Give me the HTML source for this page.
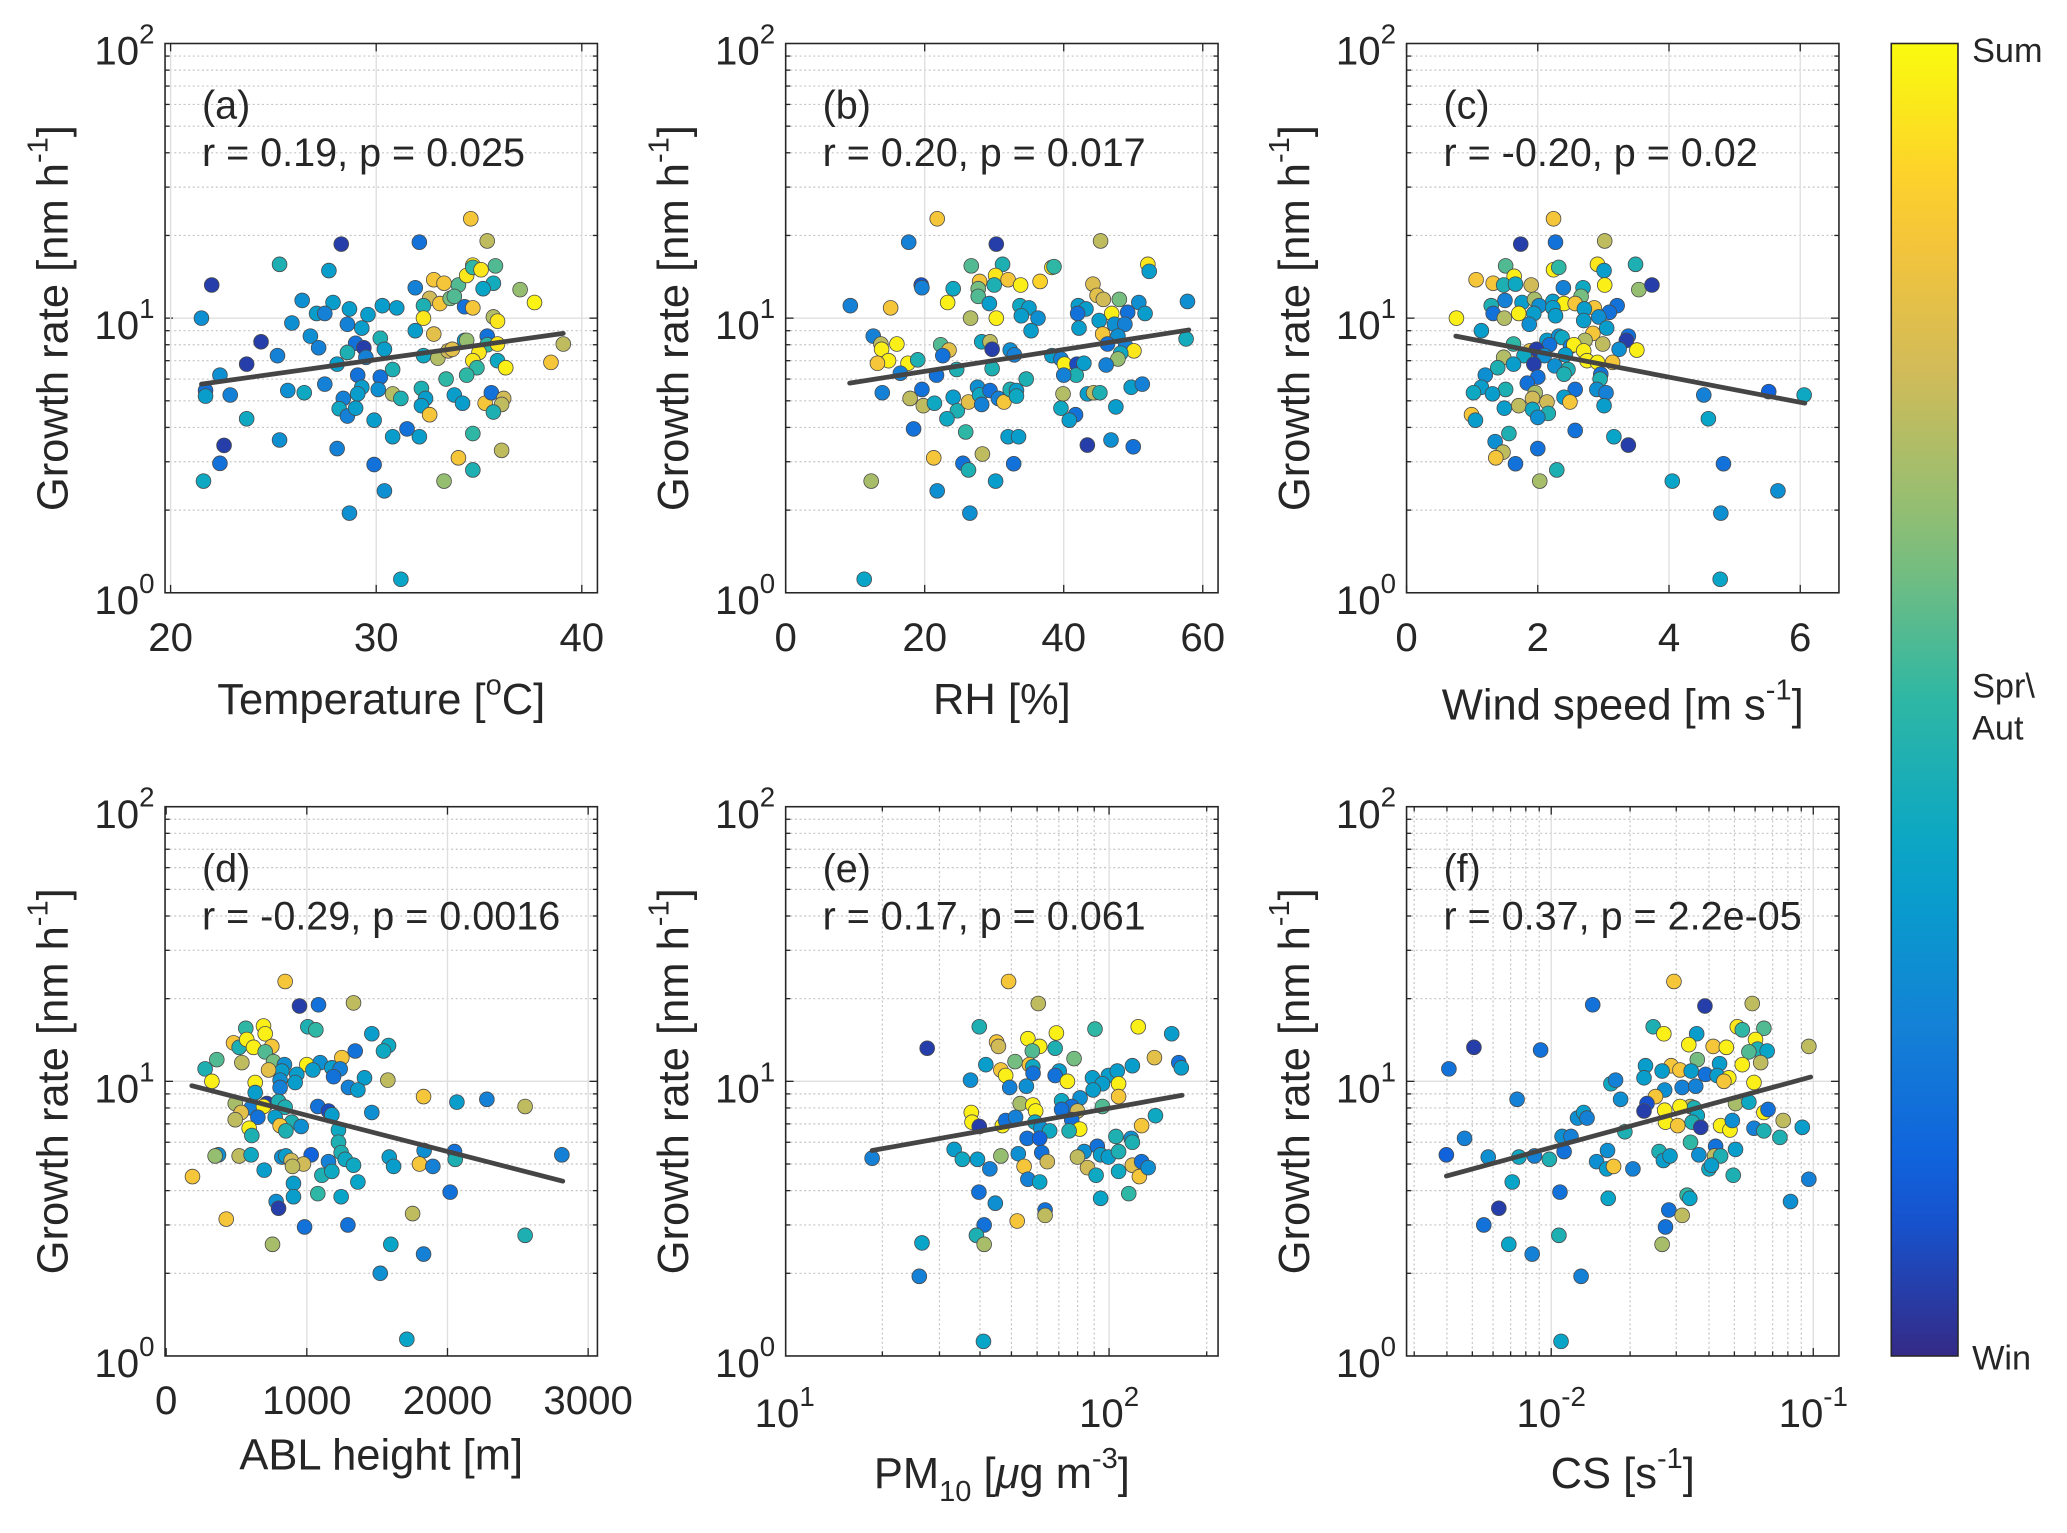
<!DOCTYPE html>
<html><head><meta charset="utf-8"><title>Growth rate vs meteorological parameters</title>
<style>
html,body{margin:0;padding:0;background:#fff;}
svg{display:block;}
text{font-family:"Liberation Sans",Arial,sans-serif;fill:#262626;}
</style></head>
<body>
<svg id="fig" xmlns="http://www.w3.org/2000/svg" width="2067" height="1533" viewBox="0 0 1568 1163" preserveAspectRatio="none"></svg>
<script>
// ---------- DATA: [x, growth rate (nm/h), season colour 0=Win..1=Sum] ----------
const ptsA = [[34.6,23,.85],[28.3,18.6,.05],[32.1,18.9,.2],[35.4,19.1,.72],[25.3,15.7,.45],[27.7,14.9,.35],[22.0,13.2,.05],[31.9,12.9,.25],[32.8,13.8,.85],[33.3,13.4,.85],[34.0,13.2,.55],[34.4,14.3,.95],[34.7,15.6,.95],[34.7,15.3,.5],[35.1,15.0,.95],[35.8,15.5,.55],[35.7,13.4,.42],[35.2,12.8,.38],[37.0,12.7,.65],[37.7,11.4,.98],[21.5,10,.3],[26.4,11.6,.3],[27.9,11.4,.35],[27.1,10.4,.35],[27.5,10.4,.25],[28.7,10.8,.35],[29.6,10.3,.35],[30.3,11.1,.35],[31.0,10.9,.35],[32.6,11.8,.75],[33.1,11.3,.85],[33.6,11.8,.6],[33.8,12.0,.55],[34.3,11.0,.2],[34.7,10.9,.85],[32.3,11.1,.45],[32.3,10,.95],[35.7,10.1,.7],[35.9,9.75,.95],[31.9,9.0,.35],[32.8,8.75,.8],[25.9,9.6,.3],[26.8,8.6,.3],[27.2,7.8,.25],[28.6,9.5,.25],[29.3,9.2,.35],[30.2,8.45,.45],[29.0,8.1,.2],[29.4,7.8,.05],[30.4,7.7,.35],[24.4,8.2,.05],[23.7,6.8,.05],[25.2,7.3,.25],[22.4,6.2,.3],[28.6,7.5,.45],[28.1,6.8,.35],[29.5,7.2,.25],[29.1,6.2,.2],[30.2,6.1,.2],[30.8,6.5,.45],[32.3,7.3,.4],[33.0,7.15,.7],[33.5,7.6,.75],[33.7,7.7,.8],[34.3,8.3,.35],[34.4,8.3,.65],[35.4,8.6,.2],[35.4,8.0,.5],[35.9,8.05,.95],[35.0,7.5,.95],[34.7,7.0,.95],[34.9,6.6,.5],[34.4,6.2,.5],[35.9,7.0,.4],[36.3,6.6,.97],[39.1,8.05,.72],[38.5,6.9,.85],[33.4,6.0,.5],[21.7,5.45,.2],[21.7,5.2,.35],[22.9,5.25,.25],[25.7,5.45,.3],[26.5,5.35,.4],[27.5,5.75,.25],[28.4,5.1,.25],[29.3,5.6,.35],[29.1,5.3,.35],[30.1,5.5,.3],[28.2,4.68,.4],[28.6,4.4,.25],[29.0,4.7,.35],[30.8,5.3,.7],[31.2,5.1,.45],[32.2,5.55,.45],[32.4,5.1,.35],[32.2,4.8,.35],[32.6,4.45,.85],[33.8,5.25,.35],[34.2,4.9,.35],[35.3,4.9,.85],[35.6,5.35,.2],[36.2,5.1,.75],[36.1,4.85,.72],[35.7,4.55,.45],[23.7,4.3,.4],[29.9,4.25,.35],[30.8,3.7,.35],[31.5,3.95,.2],[32.1,3.7,.35],[34.7,3.8,.5],[25.3,3.6,.3],[28.1,3.35,.25],[22.6,3.44,.05],[22.4,2.96,.2],[29.9,2.93,.2],[34.0,3.1,.85],[36.1,3.3,.72],[21.6,2.55,.4],[34.7,2.8,.45],[33.3,2.55,.65],[30.4,2.35,.3],[28.7,1.95,.3],[31.2,1.12,.38]];
const ptsB = [[21.8,23,.85],[17.7,18.9,.25],[30.3,18.6,.05],[45.3,19.1,.72],[26.7,15.5,.55],[31.2,15.7,.45],[38.3,15.3,.95],[38.6,15.4,.5],[52.1,15.7,.95],[52.3,14.8,.35],[27.9,13.6,.85],[30.2,14.3,.95],[30.0,13.2,.45],[32.0,13.8,.85],[33.8,13.2,.97],[36.6,13.6,.9],[27.7,12.8,.6],[27.7,12.0,.55],[19.5,13.2,.1],[19.6,12.9,.25],[24.1,12.8,.4],[23.3,11.4,.97],[9.3,11.1,.25],[15.1,10.9,.85],[29.3,11.3,.35],[33.7,11.1,.4],[35.0,10.9,.35],[33.9,10.2,.35],[36.3,10.0,.3],[35.3,9.0,.35],[26.6,10.0,.7],[30.3,10.0,.97],[44.2,13.3,.78],[44.8,12.1,.8],[45.7,11.7,.75],[48.0,11.7,.6],[50.8,11.4,.3],[51.7,10.4,.35],[42.1,11.1,.35],[43.2,10.8,.35],[42.0,10.4,.2],[46.9,10.4,.97],[49.2,10.5,.2],[45.1,9.8,.35],[47.3,9.5,.3],[48.8,9.5,.25],[42.2,9.2,.35],[57.8,11.5,.3],[45.6,8.75,.85],[47.8,8.6,.3],[46.3,8.05,.2],[48.9,7.9,.25],[50.1,7.6,.95],[48.2,7.45,.4],[47.8,7.1,.65],[57.6,8.4,.42],[12.6,8.6,.25],[13.7,8.05,.72],[13.8,7.7,.97],[16.0,8.05,.97],[14.8,7.0,.97],[13.2,6.85,.85],[17.6,6.85,.97],[19.0,7.05,.45],[16.5,6.3,.25],[22.3,8.0,.55],[23.5,7.65,.8],[22.6,7.3,.2],[24.6,6.5,.45],[28.2,8.2,.4],[29.4,8.2,.72],[29.7,7.7,.05],[29.7,6.55,.45],[32.3,7.65,.3],[32.9,7.35,.25],[21.7,6.2,.2],[38.3,7.3,.35],[39.6,7.1,.25],[40.1,6.8,.97],[41.9,6.8,.08],[41.8,6.2,.45],[40.0,6.2,.25],[42.9,6.85,.35],[46.1,6.75,.25],[34.6,6.0,.45],[13.9,5.35,.25],[19.6,5.5,.2],[17.9,5.1,.72],[19.8,4.8,.72],[21.4,4.9,.4],[24.1,5.15,.35],[24.7,4.6,.45],[23.2,4.3,.4],[26.3,4.95,.8],[27.6,5.6,.3],[27.9,5.25,.4],[28.2,4.85,.25],[29.4,5.45,.2],[30.6,5.1,.25],[31.4,4.95,.85],[32.3,5.5,.45],[33.2,5.45,.35],[33.2,5.2,.4],[39.9,5.3,.7],[43.4,5.3,.35],[44.3,5.35,.72],[45.2,5.35,.45],[39.6,4.7,.4],[41.7,4.45,.2],[40.8,4.25,.35],[47.5,4.75,.35],[49.7,5.6,.35],[51.3,5.75,.25],[18.4,3.95,.2],[25.9,3.85,.5],[32.0,3.7,.35],[33.5,3.7,.35],[43.4,3.45,.05],[46.8,3.6,.3],[50.0,3.4,.2],[21.3,3.1,.85],[28.3,3.2,.72],[25.5,2.96,.2],[26.3,2.8,.45],[32.8,2.95,.2],[30.2,2.55,.35],[12.3,2.55,.68],[21.8,2.35,.3],[26.5,1.95,.3],[11.3,1.12,.38]];
const ptsC = [[2.24,23,.85],[1.74,18.6,.05],[2.27,18.9,.2],[3.02,19.1,.72],[1.51,15.5,.55],[1.64,14.2,.97],[2.24,15.0,.97],[2.32,15.3,.5],[2.91,15.7,.95],[3.01,14.9,.35],[3.49,15.7,.45],[1.06,13.8,.85],[1.32,13.4,.85],[1.48,13.2,.45],[1.66,13.3,.4],[1.9,13.2,.75],[2.39,12.9,.25],[2.69,12.9,.4],[3.02,13.2,.97],[3.54,12.7,.65],[3.74,13.2,.05],[1.5,11.6,.25],[1.29,11.1,.45],[1.76,11.4,.35],[1.95,11.7,.68],[2.02,11.1,.3],[2.23,11.5,.35],[2.4,11.3,.97],[2.66,12.0,.6],[2.57,11.3,.85],[2.86,10.9,.85],[2.71,10.8,.35],[3.21,11.1,.2],[3.09,10.5,.2],[1.32,10.4,.2],[1.49,10.0,.7],[1.71,10.4,.97],[1.94,10.4,.35],[2.23,10.9,.35],[2.27,10.2,.35],[2.7,9.8,.35],[2.93,10.1,.3],[0.76,10,.97],[1.87,9.5,.3],[3.05,9.2,.35],[1.14,9.0,.35],[2.84,8.8,.85],[3.38,8.6,.2],[3.35,8.3,.05],[2.14,8.3,.35],[2.32,8.6,.3],[2.37,8.5,.4],[2.72,8.3,.7],[2.99,8.05,.72],[1.63,8.05,.5],[2.18,8.0,.2],[2.5,7.9,.25],[2.55,8.0,.97],[2.7,7.6,.97],[3.51,7.65,.97],[3.24,7.7,.3],[1.88,7.6,.8],[1.98,7.7,.05],[1.79,7.3,.4],[2.1,7.3,.3],[2.42,7.35,.35],[1.48,7.2,.7],[2.75,7.0,.97],[2.91,6.9,.97],[3.14,6.9,.85],[1.94,6.8,.05],[2.26,6.7,.3],[2.46,6.5,.45],[1.63,6.8,.35],[1.39,6.6,.45],[2.4,6.25,.45],[2.0,6.1,.2],[2.96,6.25,.2],[2.95,6.0,.45],[1.2,6.2,.3],[1.84,5.8,.2],[1.14,5.6,.35],[2.57,5.5,.2],[2.9,5.5,.3],[3.04,5.35,.25],[1.51,5.5,.45],[1.96,5.35,.68],[1.02,5.35,.4],[1.31,5.3,.35],[2.4,5.15,.35],[2.49,4.95,.85],[1.92,5.1,.75],[2.14,4.95,.75],[1.71,4.8,.72],[1.49,4.7,.35],[1.92,4.65,.4],[2.16,4.5,.45],[2.0,4.35,.3],[3.01,4.8,.35],[4.53,5.25,.25],[5.52,5.4,.15],[6.06,5.25,.4],[0.99,4.45,.85],[1.05,4.25,.35],[4.6,4.3,.38],[2.57,3.9,.2],[3.16,3.7,.38],[3.38,3.45,.05],[1.56,3.8,.45],[1.35,3.55,.3],[1.47,3.25,.72],[1.36,3.1,.85],[2.0,3.35,.2],[1.66,2.95,.2],[2.29,2.8,.45],[2.03,2.55,.68],[4.83,2.95,.2],[4.05,2.55,.38],[5.66,2.35,.3],[4.79,1.95,.3],[4.78,1.12,.38]];
const ptsD = [[846,23.1,.85],[948,18.8,.05],[1083,19.0,.2],[1332,19.3,.72],[566,15.6,.5],[692,15.9,.97],[704,14.9,.97],[1007,15.8,.45],[1064,15.4,.5],[1462,14.9,.35],[1581,13.5,.4],[1545,12.9,.4],[479,13.8,.85],[519,13.3,.45],[573,14.2,.97],[621,13.3,.97],[751,13.4,.85],[704,12.8,.55],[1344,12.9,.2],[1249,12.2,.85],[360,12.0,.55],[277,11.1,.45],[538,11.7,.72],[763,11.8,.6],[841,11.5,.3],[1000,11.5,.97],[1095,11.7,.3],[1178,11.2,.35],[1237,11.1,.25],[1043,11.0,.35],[822,10.9,.35],[728,11.0,.8],[929,10.6,.35],[1190,10.4,.2],[1410,10.3,.35],[1576,10.1,.72],[325,10.0,.97],[810,10.1,.3],[917,9.9,.35],[810,9.5,.25],[1296,9.5,.25],[1363,9.3,.35],[633,9.9,.97],[633,9.1,.35],[1830,8.8,.85],[2067,8.4,.35],[2280,8.6,.25],[2552,8.1,.72],[491,8.3,.68],[716,8.3,.05],[604,8.0,.25],[692,8.1,.97],[799,8.45,.45],[846,8.05,.45],[1078,8.1,.2],[1154,7.8,.08],[1178,7.55,.35],[533,7.7,.8],[652,7.4,.2],[775,7.4,.35],[1462,7.7,.3],[491,7.25,.72],[893,7.1,.45],[960,6.85,.3],[810,6.9,.85],[851,6.6,.45],[590,6.75,.97],[1225,6.65,.4],[609,6.35,.45],[1225,6.0,.45],[1244,5.5,.45],[1273,5.2,.4],[372,5.4,.3],[348,5.35,.65],[519,5.35,.72],[604,5.4,.4],[822,5.3,.3],[851,5.35,.35],[1031,5.4,.15],[889,5.15,.75],[976,5.0,.75],[898,4.9,.72],[1154,5.1,.25],[1332,4.95,.4],[1586,5.3,.35],[1617,4.9,.35],[1834,5.6,.3],[1801,5.0,.85],[1896,4.9,.25],[2050,5.55,.2],[2055,5.2,.45],[2813,5.4,.25],[187,4.5,.85],[697,4.75,.35],[1107,4.55,.45],[1178,4.7,.4],[1363,4.3,.38],[905,4.25,.35],[2019,3.95,.2],[1078,3.9,.5],[905,3.8,.35],[1244,3.8,.38],[782,3.65,.3],[799,3.45,.05],[1752,3.3,.72],[427,3.15,.85],[984,2.95,.2],[1292,3.0,.2],[2552,2.75,.45],[756,2.55,.68],[1597,2.55,.38],[1830,2.35,.25],[1522,2.0,.3],[1711,1.15,.38]];
const ptsE = [[49.0,23.1,.85],[60.5,19.2,.72],[39.8,15.8,.45],[90.5,15.5,.5],[123,15.8,.97],[156,14.9,.35],[27.5,13.2,.05],[45,13.9,.85],[45.6,13.4,.75],[56.2,14.3,.97],[68.8,15.0,.97],[61.1,13.4,.97],[68.2,13.2,.45],[58.0,12.9,.55],[78.0,12.1,.6],[138,12.2,.8],[164,11.7,.2],[167,11.2,.35],[41.7,11.5,.35],[51.3,11.8,.6],[56.8,11.5,.85],[58.2,11.3,.4],[46.4,11.0,.85],[48,10.5,.97],[58.3,10.7,.2],[70.2,10.9,.35],[68.2,10.5,.2],[74.4,10.0,.97],[88.9,10.3,.35],[99.5,10.5,.35],[106,10.9,.35],[118,11.4,.35],[95.4,9.8,.35],[107,9.8,.97],[37.4,10.1,.3],[49.4,9.5,.25],[55.6,9.6,.3],[89.3,9.3,.35],[107,8.8,.85],[81.4,8.7,.3],[71.4,8.5,.4],[53.2,8.3,.68],[58.2,8.2,.97],[59.4,7.8,.97],[76.7,8.1,.2],[79.9,7.8,.75],[71.4,7.9,.2],[95.4,8.1,.55],[37.6,7.7,.97],[139,7.5,.4],[37.8,7.1,.97],[39.8,6.85,.05],[46.9,6.9,.97],[48,7.2,.2],[51.5,7.4,.25],[59.1,7.1,.4],[61.6,6.75,.3],[65.6,6.6,.4],[76.7,7.25,.2],[81.2,6.7,.97],[75.3,6.6,.45],[126,6.9,.85],[55.9,6.2,.2],[61.1,6.2,.15],[105,6.3,.45],[117,6.2,.3],[118,6.0,.45],[33.3,5.65,.35],[35.3,5.2,.4],[39.3,5.2,.35],[42.9,4.8,.25],[46.4,5.35,.65],[52.5,5.45,.3],[62,5.5,.2],[64.5,5.1,.75],[54.7,4.9,.85],[56.2,4.4,.25],[61.1,4.3,.38],[83.8,5.55,.3],[79.9,5.3,.72],[92,5.8,.2],[94.2,5.4,.35],[99.5,5.3,.35],[107,5.55,.45],[85.8,4.85,.75],[91.2,4.55,.4],[107,4.7,.4],[118,4.95,.8],[124,4.5,.85],[126,5.1,.2],[132,4.85,.3],[39.7,3.95,.2],[44.6,3.6,.3],[63.5,3.4,.2],[63.5,3.25,.72],[52.1,3.1,.85],[94.2,3.75,.38],[115,3.9,.5],[41.2,3.0,.2],[39.0,2.75,.45],[41.2,2.55,.68],[26.5,2.58,.38],[26,1.95,.25],[41,1.13,.38],[18.6,5.25,.25]];
const ptsF = [[0.0294,23.1,.85],[0.0144,19.0,.2],[0.0386,18.8,.05],[0.0585,19.2,.72],[0.0245,15.8,.45],[0.0269,14.9,.97],[0.0513,15.8,.95],[0.0536,15.4,.5],[0.0648,15.6,.55],[0.0359,14.9,.35],[0.00507,13.3,.05],[0.00911,13.0,.2],[0.0335,13.6,.97],[0.0415,13.4,.85],[0.0466,13.3,.97],[0.0602,14.2,.97],[0.0613,13.1,.45],[0.0667,12.9,.38],[0.0568,12.8,.55],[0.0962,13.4,.72],[0.063,11.7,.72],[0.0536,11.5,.97],[0.0361,12.0,.6],[0.0229,11.4,.35],[0.0287,11.4,.85],[0.031,11.0,.85],[0.0265,10.9,.35],[0.0342,10.9,.35],[0.0388,10.6,.2],[0.0439,11.6,.35],[0.043,10.5,.35],[0.0476,10.3,.97],[0.0456,10,.85],[0.0594,9.9,.97],[0.0226,10.3,.35],[0.00407,11.1,.2],[0.0169,9.8,.4],[0.0176,10.1,.25],[0.0316,9.5,.25],[0.0356,9.6,.25],[0.0271,9.3,.3],[0.0184,8.6,.3],[0.00741,8.6,.25],[0.025,8.8,.85],[0.0232,8.3,.1],[0.0226,7.8,.05],[0.034,8.1,.72],[0.0351,8.0,.45],[0.0505,8.3,.68],[0.0568,8.4,.4],[0.0271,7.85,.97],[0.031,8.1,.97],[0.0361,7.5,.4],[0.0648,7.7,.97],[0.0672,7.9,.2],[0.0273,7.1,.97],[0.0304,6.9,.85],[0.0345,7.1,.45],[0.0372,6.8,.05],[0.0443,6.9,.97],[0.0481,6.65,.97],[0.0491,7.2,.3],[0.0126,7.35,.3],[0.0133,7.7,.35],[0.0137,7.35,.25],[0.0594,6.75,.25],[0.0648,6.6,.45],[0.0768,7.2,.72],[0.0746,6.25,.45],[0.0908,6.8,.35],[0.00467,6.2,.25],[0.011,6.3,.3],[0.0119,6.3,.25],[0.0191,6.55,.45],[0.034,6.0,.5],[0.0424,5.8,.2],[0.0505,5.65,.35],[0.00398,5.4,.15],[0.00575,5.3,.3],[0.00753,5.3,.4],[0.00863,5.35,.25],[0.00984,5.2,.45],[0.0112,5.55,.2],[0.0164,5.6,.3],[0.0149,5.1,.3],[0.0163,4.8,.35],[0.0173,4.9,.85],[0.0205,4.8,.25],[0.0258,5.55,.45],[0.0268,5.15,.35],[0.0284,5.35,.35],[0.0366,5.4,.3],[0.042,5.35,.72],[0.0443,5.35,.45],[0.04,4.8,.4],[0.0409,4.95,.35],[0.0495,4.55,.45],[0.0962,4.4,.25],[0.0071,4.3,.38],[0.0108,3.95,.2],[0.0165,3.75,.38],[0.033,3.85,.5],[0.0338,3.75,.38],[0.0819,3.65,.3],[0.00631,3.45,.05],[0.0281,3.4,.2],[0.0316,3.25,.72],[0.00553,3.0,.2],[0.0273,2.95,.2],[0.0107,2.75,.45],[0.00689,2.55,.38],[0.0265,2.55,.68],[0.00846,2.35,.25],[0.013,1.95,.25],[0.0109,1.13,.38]];
// regression lines: [[x0,y0],[x1,y1]]
const fitA = [[21.5,5.75],[39.1,8.8]];
const fitB = [[9.2,5.8],[58.0,9.06]];
const fitC = [[0.75,8.6],[6.07,4.9]];
const fitD = [[182,9.64],[2820,4.33]];
const fitE = [[18.6,5.6],[168,8.9]];
const fitF = [[0.00398,4.52],[0.0978,10.37]];
// annotations
const panelLetters = ["(a)","(b)","(c)","(d)","(e)","(f)"];
const statsText = ["r = 0.19, p = 0.025","r = 0.20, p = 0.017","r = -0.20, p = 0.02","r = -0.29, p = 0.0016","r = 0.17, p = 0.061","r = 0.37, p = 2.2e-05"];
const ticksA = [20,30,40];
const ticksB = [0,20,40,60];
const ticksC = [0,2,4,6];
const ticksD = [0,1000,2000,3000];
const ticksE = [10,100];
const ticksF = [0.01,0.1];
const yTicks = [1,10,100];

const NS = "http://www.w3.org/2000/svg";
const svg = document.getElementById("fig");
function mk(tag, attrs, parent){
  const e = document.createElementNS(NS, tag);
  for (const k in attrs) e.setAttribute(k, attrs[k]);
  (parent||svg).appendChild(e);
  return e;
}
const cmStops = [[0,[53,42,135]],[0.125,[15,92,221]],[0.25,[20,129,214]],[0.375,[6,164,202]],[0.5,[46,183,164]],[0.625,[135,191,119]],[0.75,[209,187,89]],[0.875,[254,200,50]],[1,[249,251,14]]];
function cmap(t){
  t=Math.max(0,Math.min(1,t));
  for(let i=1;i<cmStops.length;i++){
    if(t<=cmStops[i][0]){
      const a=cmStops[i-1],b=cmStops[i],f=(t-a[0])/(b[0]-a[0]);
      const c=a[1].map((v,j)=>Math.round(v+(b[1][j]-v)*f));
      return `rgb(${c[0]},${c[1]},${c[2]})`;
    }
  }
  return "rgb(249,251,14)";
}

const W = 328, H = 416.7;
const panels = [
  {id:"a", L:125.2, T:33, xlog:false, xmin:19.73, xmax:40.76, ticks:ticksA, pts:ptsA, fit:fitA, xlabel:"temp"},
  {id:"b", L:596, T:33, xlog:false, xmin:0, xmax:62.2, ticks:ticksB, pts:ptsB, fit:fitB, xlabel:"rh"},
  {id:"c", L:1067, T:33, xlog:false, xmin:0, xmax:6.59, ticks:ticksC, pts:ptsC, fit:fitC, xlabel:"ws"},
  {id:"d", L:125.2, T:612, xlog:false, xmin:-8, xmax:3066, ticks:ticksD, pts:ptsD, fit:fitD, xlabel:"abl"},
  {id:"e", L:596, T:612, xlog:true, xmin:1.003, xmax:2.336, ticks:ticksE, pts:ptsE, fit:fitE, xlabel:"pm"},
  {id:"f", L:1067, T:612, xlog:true, xmin:-2.552, xmax:-0.902, ticks:ticksF, pts:ptsF, fit:fitF, xlabel:"cs"}
];

panels.forEach((p, idx) => {
  const g = mk("g", {});
  
  
  const X = v => p.L + ((p.xlog ? Math.log10(v) : v) - p.xmin) / (p.xmax - p.xmin) * W;
  const Y = v => p.T + H - Math.log10(v) / 2 * H;
  const B = p.T + H, R = p.L + W;
  const grid = mk("g", {}, g);
  
  
  for (let d=0; d<2; d++) for (let m=1; m<=9; m++){
    const v = m*Math.pow(10,d); if (v===1) continue;
    const y = Y(v);
    if (m===1) mk("line",{x1:p.L,x2:R,y1:y,y2:y,stroke:"#dedede","stroke-width":1},grid);
    else mk("line",{x1:p.L,x2:R,y1:y,y2:y,stroke:"#c4c4c4","stroke-width":0.9,"stroke-dasharray":"1.5 2"},grid);
    const tl = m===1?6:3.5;
    mk("line",{x1:p.L,x2:p.L+tl,y1:y,y2:y,stroke:"#262626","stroke-width":1},grid);
    mk("line",{x1:R,x2:R-tl,y1:y,y2:y,stroke:"#262626","stroke-width":1},grid);
  }
  if (p.xlog){
    const d0 = Math.floor(p.xmin), d1 = Math.ceil(p.xmax);
    for (let d=d0; d<d1; d++) for (let m=1; m<=9; m++){
      const v = m*Math.pow(10,d), lv=Math.log10(v);
      if (lv<=p.xmin+1e-6 || lv>=p.xmax) continue;
      const x = X(v);
      if (m===1) mk("line",{x1:x,x2:x,y1:p.T,y2:B,stroke:"#dedede","stroke-width":1},grid);
      else mk("line",{x1:x,x2:x,y1:p.T,y2:B,stroke:"#c4c4c4","stroke-width":0.9,"stroke-dasharray":"1.5 2"},grid);
      const tl = m===1?6:3.5;
      mk("line",{x1:x,x2:x,y1:B,y2:B-tl,stroke:"#262626","stroke-width":1},grid);
      mk("line",{x1:x,x2:x,y1:p.T,y2:p.T+tl,stroke:"#262626","stroke-width":1},grid);
    }
  } else {
    p.ticks.forEach(v => {
      const x = X(v);
      if (x > p.L+1) mk("line",{x1:x,x2:x,y1:p.T,y2:B,stroke:"#dedede","stroke-width":1},grid);
      mk("line",{x1:x,x2:x,y1:B,y2:B-6,stroke:"#262626","stroke-width":1},grid);
      mk("line",{x1:x,x2:x,y1:p.T,y2:p.T+6,stroke:"#262626","stroke-width":1},grid);
    });
  }
  const pg = mk("g", {}, g);
  
  
  p.pts.forEach(pt => {
    const c = mk("circle",{cx:X(pt[0]),cy:Y(pt[1]),r:5.6,fill:cmap(pt[2]),stroke:"#4a4a4a","stroke-width":0.6},pg);
    
    
  });
  const fl = mk("line",{x1:X(p.fit[0][0]),y1:Y(p.fit[0][1]),x2:X(p.fit[1][0]),y2:Y(p.fit[1][1]),stroke:"#454545","stroke-width":3.6,"stroke-linecap":"round"},g);
  
  
  const box = mk("rect",{x:p.L,y:p.T,width:W,height:H,fill:"none",stroke:"#262626","stroke-width":1.2},g);
  
  
  yTicks.forEach((v,i) => {
    const t = mk("text",{x:p.L-8,y:Y(v)+16,"font-size":30.5,"text-anchor":"end"},g);
    
    
    const a = mk("tspan",{},t); a.textContent = "10";
    const s = mk("tspan",{"font-size":21,dy:-16},t); s.textContent = String(i);
  });
  p.ticks.forEach(v => {
    const x = X(v);
    const t = mk("text",{x:x,y:B+44,"font-size":30.5,"text-anchor":"middle"},g);
    
    
    if (p.xlog){
      t.setAttribute("y", B+54);
      const a = mk("tspan",{},t); a.textContent = "10";
      const s = mk("tspan",{"font-size":21,dy:-16},t); s.textContent = String(Math.round(Math.log10(v)));
    } else t.textContent = String(v);
  });
  const yl = mk("text",{x:0,y:0,"font-size":33,"text-anchor":"middle",transform:`translate(${p.L-74},${p.T+H/2}) rotate(-90)`},g);
  
  
  mk("tspan",{},yl).textContent = "Growth rate [nm h";
  mk("tspan",{"font-size":22,dy:-15},yl).textContent = "-1";
  mk("tspan",{dy:15},yl).textContent = "]";
  const cx = p.L + W/2;
  const xl = mk("text",{x:cx,y:B+92,"font-size":33,"text-anchor":"middle"},g);
  
  
  if (p.xlabel==="temp"){ mk("tspan",{},xl).textContent="Temperature ["; mk("tspan",{"font-size":22,dy:-15},xl).textContent="o"; mk("tspan",{dy:15},xl).textContent="C]"; }
  if (p.xlabel==="rh"){ xl.textContent="RH [%]"; }
  if (p.xlabel==="ws"){ xl.setAttribute("y",B+96); mk("tspan",{},xl).textContent="Wind speed [m s"; mk("tspan",{"font-size":22,dy:-15},xl).textContent="-1"; mk("tspan",{dy:15},xl).textContent="]"; }
  if (p.xlabel==="abl"){ xl.setAttribute("y",B+86); xl.textContent="ABL height [m]"; }
  if (p.xlabel==="pm"){ xl.setAttribute("y",B+100); mk("tspan",{},xl).textContent="PM"; mk("tspan",{"font-size":22,dy:10},xl).textContent="10"; mk("tspan",{dy:-10},xl).textContent=" ["; mk("tspan",{"font-style":"italic"},xl).textContent="\u03bc"; mk("tspan",{},xl).textContent="g m"; mk("tspan",{"font-size":22,dy:-15},xl).textContent="-3"; mk("tspan",{dy:15},xl).textContent="]"; }
  if (p.xlabel==="cs"){ xl.setAttribute("y",B+100); mk("tspan",{},xl).textContent="CS [s"; mk("tspan",{"font-size":22,dy:-15},xl).textContent="-1"; mk("tspan",{dy:15},xl).textContent="]"; }
  const lt = mk("text",{x:p.L+28,y:p.T+57,"font-size":30},g);
  
  
  lt.textContent = panelLetters[idx];
  const st = mk("text",{x:p.L+28,y:p.T+93,"font-size":30},g);
  
  
  st.textContent = statsText[idx];
});

const cb = mk("g", {});


const defs = mk("defs", {});
const grad = mk("linearGradient", {id:"parula", x1:0, y1:1, x2:0, y2:0}, defs);
for (let i=0;i<=20;i++){ mk("stop",{offset:(i/20), "stop-color":cmap(i/20)},grad); }
const cbT = 33, cbB = 1028.7, cbL = 1434.7, cbR = 1485.3;
mk("rect",{x:cbL,y:cbT,width:cbR-cbL,height:cbB-cbT,fill:"url(#parula)",stroke:"#262626","stroke-width":1.2},cb);
const cbLabels = [["Sum",47],["Spr\\",529],["Aut",561],["Win",1039]];
cbLabels.forEach(l => {
  const t = mk("text",{x:1496,y:l[1],"font-size":26},cb);
  
  
  t.textContent = l[0];
});
</script>
</body></html>
